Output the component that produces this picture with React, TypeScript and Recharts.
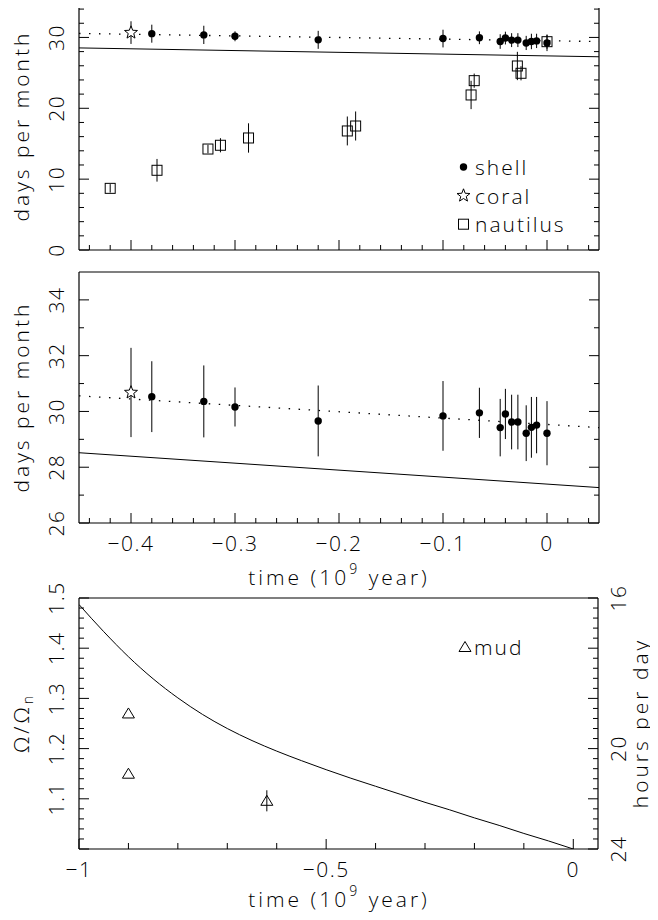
import React from 'react';
import { ComposedChart, XAxis, YAxis, Line, Scatter, ErrorBar, Legend, Label } from 'recharts';

const FONT = '"Open Sans", "DejaVu Sans", sans-serif';
const INK = '#000';

// ---------- data (time in 10^9 yr) ----------
const shellT = [-0.38, -0.33, -0.30, -0.22, -0.10, -0.065, -0.045, -0.040, -0.034, -0.028, -0.020, -0.015, -0.010, 0.0];
const shellDays = [30.53, 30.36, 30.16, 29.66, 29.84, 29.95, 29.42, 29.91, 29.62, 29.62, 29.22, 29.43, 29.51, 29.22];
const shellErr = [1.27, 1.29, 0.70, 1.27, 1.25, 0.90, 1.03, 0.90, 0.98, 0.98, 1.0, 1.09, 1.01, 1.15];

const coralT = [-0.40];
const coralDays = [30.68];
const coralErr = [1.6];

const nautilusT = [-0.42, -0.375, -0.326, -0.314, -0.287, -0.192, -0.184, -0.073, -0.070, -0.0285, -0.025, 0.0];
const nautilusDays = [8.7, 11.25, 14.25, 14.78, 15.81, 16.8, 17.5, 21.88, 23.9, 25.97, 24.94, 29.4];
const nautilusErr = [0.6, 1.6, 0.6, 1.0, 2.07, 2.04, 2.05, 2.0, 1.0, 2.0, 1.0, 1.0];

const theoryT = [-0.45, 0.05];
const theoryDays = [28.52, 27.27];
const fitT = [-0.45, 0.05];
const fitDays = [30.56, 29.42];

const mudT = [-0.9, -0.9, -0.62];
const mudOmega = [1.27, 1.15, 1.096];
const mudErr = [0, 0, 0.021];

const spinT = [-1.0, -0.95, -0.9, -0.85, -0.8, -0.75, -0.7, -0.65, -0.6, -0.55, -0.5, -0.45, -0.4, -0.35, -0.3, -0.25, -0.2, -0.15, -0.1, -0.05, 0];
const spinOmega = [1.487, 1.433, 1.383, 1.339, 1.301, 1.268, 1.240, 1.216, 1.195, 1.176, 1.158, 1.141, 1.125, 1.109, 1.093, 1.078, 1.062, 1.047, 1.031, 1.016, 1.0];

// ---------- ticks ----------
const timeMajor = [-0.4, -0.3, -0.2, -0.1, 0];
const timeLabels = ['−0.4', '−0.3', '−0.2', '−0.1', '0'];
const topDaysMajor = [0, 10, 20, 30];
const topDaysLabels = ['0', '10', '20', '30'];
const midDaysMajor = [26, 28, 30, 32, 34];
const midDaysLabels = ['26', '28', '30', '32', '34'];
const longTimeMajor = [-1, -0.5, 0];
const longTimeLabels = ['−1', '−0.5', '0'];
const omegaMajor = [1.0, 1.1, 1.2, 1.3, 1.4, 1.5];
const omegaLabels = ['', '1.1', '1.2', '1.3', '1.4', '1.5'];
const hoursAt = [1.5, 1.2, 1.0];
const hoursLabels = ['16', '20', '24'];

const legendTop = ['shell', 'coral', 'nautilus'];
const legendBottom = ['mud'];

const range = (a: number, b: number, step: number) => {
  const out: number[] = [];
  const n = Math.round((b - a) / step);
  for (let i = 0; i <= n; i++) out.push(+(a + i * step).toFixed(4));
  return out;
};

const timeTicks = range(-0.44, 0.04, 0.02);
const topDaysTicks = range(0, 34, 2);
const midDaysTicks = range(26, 34, 1);
const longTimeTicks = range(-1, 0, 0.1);
const omegaTicks = range(1.0, 1.5, 0.02);

const zip = (t: number[], v: number[], e?: number[]) => t.map((x, i) => ({ t: x, d: v[i], e: e ? e[i] : 0 }));
const shellData = zip(shellT, shellDays, shellErr);
const coralData = zip(coralT, coralDays, coralErr);
const nautilusData = zip(nautilusT, nautilusDays, nautilusErr);
const theoryData = zip(theoryT, theoryDays);
const fitData = zip(fitT, fitDays);
const mudData = zip(mudT, mudOmega, mudErr);
const spinData = zip(spinT, spinOmega);

// ---------- ticks renderer ----------
const findIdx = (vals: number[], v: number) => vals.findIndex((m) => Math.abs(m - v) < 1e-6);

const tickTextStyle = { fontFamily: FONT, fontSize: 21, fontWeight: 300, fill: INK, letterSpacing: 1.5 } as any;
const titleStyle = { fontFamily: FONT, fontSize: 21, fontWeight: 300, fill: INK, letterSpacing: 3 } as any;
const legendStyle = { fontFamily: FONT, fontSize: 21, fontWeight: 300, fill: INK, letterSpacing: 2 } as any;

type Side = 'bottom' | 'top' | 'left' | 'right';
const makeTick = (side: Side, majors: number[], labelVals?: number[], labels?: string[], minorLen = 5, majorLen = 10) =>
  (props: any) => {
    const { x, y, payload } = props;
    const v = payload.value;
    const major = findIdx(majors, v) >= 0;
    const len = major ? majorLen : minorLen;
    let text: string | null = null;
    if (labelVals && labels) {
      const i = findIdx(labelVals, v);
      if (i >= 0 && labels[i]) text = labels[i];
    }
    let line: any = null;
    let txt: any = null;
    if (side === 'bottom') {
      line = <line x1={x} y1={y} x2={x} y2={y - len} stroke={INK} strokeWidth={1} />;
      if (text) txt = <text x={x} y={y + 20} textAnchor="middle" dominantBaseline="central" style={tickTextStyle}>{text}</text>;
    } else if (side === 'top') {
      line = <line x1={x} y1={y} x2={x} y2={y + len} stroke={INK} strokeWidth={1} />;
    } else if (side === 'left') {
      line = <line x1={x} y1={y} x2={x + len} y2={y} stroke={INK} strokeWidth={1} />;
      if (text) txt = <text x={x - 23} y={y} textAnchor="middle" dominantBaseline="central" transform={`rotate(-90 ${x - 23} ${y})`} style={tickTextStyle}>{text}</text>;
    } else {
      line = <line x1={x} y1={y} x2={x - len} y2={y} stroke={INK} strokeWidth={1} />;
      if (text) txt = <text x={x + 20} y={y} textAnchor="middle" dominantBaseline="central" transform={`rotate(-90 ${x + 20} ${y})`} style={tickTextStyle}>{text}</text>;
    }
    return <g>{line}{txt}</g>;
  };

// ---------- marker shapes ----------
const Dot = (p: any) => <circle cx={p.cx} cy={p.cy} r={3.7} fill={INK} />;
const starPath = (cx: number, cy: number, R: number, r: number) => {
  let d = '';
  for (let i = 0; i < 10; i++) {
    const ang = -Math.PI / 2 + (i * Math.PI) / 5;
    const rad = i % 2 === 0 ? R : r;
    d += (i === 0 ? 'M' : 'L') + (cx + rad * Math.cos(ang)).toFixed(2) + ' ' + (cy + rad * Math.sin(ang)).toFixed(2);
  }
  return d + 'Z';
};
const Star = (p: any) => <path d={starPath(p.cx, p.cy, 6.8, 2.9)} fill="#fff" stroke={INK} strokeWidth={1} />;
const Square = (p: any) => <rect x={p.cx - 5} y={p.cy - 5} width={10} height={10} fill="none" stroke={INK} strokeWidth={1} />;
const Tri = (p: any) => <path d={`M${p.cx} ${p.cy - 5.5}L${p.cx - 6} ${p.cy + 4.5}L${p.cx + 6} ${p.cy + 4.5}Z`} fill="none" stroke={INK} strokeWidth={1} />;

const vTitle = (x: number, y: number, content: any) => () => (
  <text x={x} y={y} textAnchor="middle" dominantBaseline="central" transform={`rotate(-90 ${x} ${y})`} style={titleStyle}>{content}</text>
);
const timeTitle = (x: number, y: number) => () => (
  <text x={x} y={y} textAnchor="middle" dominantBaseline="central" style={titleStyle}>
    time (10<tspan dy={-9} fontSize={14}>9</tspan><tspan dy={9}> year)</tspan>
  </text>
);

const axisLineStyle = { stroke: INK, strokeWidth: 1.2 };
const common = { tickSize: 0, tickMargin: 0, tickLine: false, interval: 0 as const, axisLine: axisLineStyle, allowDataOverflow: true, type: 'number' as const };

const LegendTop = () => (
  <svg width={160} height={90} style={{ overflow: 'visible' }}>
    {legendTop.map((name, i) => {
      const cy = 15 + i * 28.6;
      const cx = 11.5;
      return (
        <g key={name}>
          {i === 0 && <Dot cx={cx} cy={cy} />}
          {i === 1 && <Star cx={cx} cy={cy} />}
          {i === 2 && <Square cx={cx} cy={cy} />}
          <text x={23} y={cy} dominantBaseline="central" style={legendStyle}>{name}</text>
        </g>
      );
    })}
  </svg>
);
const LegendBottom = () => (
  <svg width={100} height={30} style={{ overflow: 'visible' }}>
    {legendBottom.map((name) => (
      <g key={name}>
        <Tri cx={13} cy={15} />
        <text x={22} y={15} dominantBaseline="central" style={legendStyle}>{name}</text>
      </g>
    ))}
  </svg>
);

// axis boxes are 1px wide/high, so margins are reduced by 1 on each side
export default function App() {
  return (
    <div style={{ position: 'relative', width: 658, height: 920, margin: '-8px 0 0 -8px', background: '#fff', overflow: 'hidden' }}>
      {/* top panel: plot 79..599 x 2..250 */}
      <div style={{ position: 'absolute', left: 0, top: 0 }}>
        <ComposedChart width={658} height={262} margin={{ top: 1, right: 58, bottom: 11, left: 78 }}>
          <XAxis {...common} dataKey="t" domain={[-0.45, 0.05]} ticks={timeTicks} height={1} tick={makeTick('bottom', timeMajor)} />
          <XAxis {...common} xAxisId="top" orientation="top" domain={[-0.45, 0.05]} ticks={timeTicks} height={1} tick={makeTick('top', timeMajor)} />
          <YAxis {...common} domain={[0, 35]} ticks={topDaysTicks} width={1} tick={makeTick('left', topDaysMajor, topDaysMajor, topDaysLabels)}>
            <Label content={vTitle(21, 126, 'days per month')} />
          </YAxis>
          <YAxis {...common} yAxisId="r" orientation="right" domain={[0, 35]} ticks={topDaysTicks} width={1} tick={makeTick('right', topDaysMajor)} />
          <Line data={theoryData} dataKey="d" type="linear" stroke={INK} strokeWidth={1} dot={false} isAnimationActive={false} />
          <Line data={fitData} dataKey="d" type="linear" stroke={INK} strokeWidth={1.3} strokeDasharray="1.5 8.5" dot={false} isAnimationActive={false} />
          <Scatter data={nautilusData} dataKey="d" shape={Square} isAnimationActive={false}>
            <ErrorBar dataKey="e" direction="y" width={0} stroke={INK} strokeWidth={1} />
          </Scatter>
          <Scatter data={shellData} dataKey="d" shape={Dot} isAnimationActive={false}>
            <ErrorBar dataKey="e" direction="y" width={0} stroke={INK} strokeWidth={1} />
          </Scatter>
          <Scatter data={coralData} dataKey="d" shape={Star} isAnimationActive={false}>
            <ErrorBar dataKey="e" direction="y" width={0} stroke={INK} strokeWidth={1} />
          </Scatter>
          <Legend layout="vertical" align="center" verticalAlign="middle" content={LegendTop}
            wrapperStyle={{ left: 452, top: 152, width: 160, height: 90 }} />
        </ComposedChart>
      </div>

      {/* middle panel: plot 79..599 x 272..523 */}
      <div style={{ position: 'absolute', left: 0, top: 262 }}>
        <ComposedChart width={658} height={335} margin={{ top: 9, right: 58, bottom: 73, left: 78 }}>
          <XAxis {...common} dataKey="t" domain={[-0.45, 0.05]} ticks={timeTicks} height={1} tick={makeTick('bottom', timeMajor, timeMajor, timeLabels)}>
            <Label content={timeTitle(339, 315)} />
          </XAxis>
          <XAxis {...common} xAxisId="top" orientation="top" domain={[-0.45, 0.05]} ticks={timeTicks} height={1} tick={makeTick('top', timeMajor)} />
          <YAxis {...common} domain={[26, 35]} ticks={midDaysTicks} width={1} tick={makeTick('left', midDaysMajor, midDaysMajor, midDaysLabels)}>
            <Label content={vTitle(21, 135, 'days per month')} />
          </YAxis>
          <YAxis {...common} yAxisId="r" orientation="right" domain={[26, 35]} ticks={midDaysTicks} width={1} tick={makeTick('right', midDaysMajor)} />
          <Line data={theoryData} dataKey="d" type="linear" stroke={INK} strokeWidth={1} dot={false} isAnimationActive={false} />
          <Line data={fitData} dataKey="d" type="linear" stroke={INK} strokeWidth={1.3} strokeDasharray="1.5 8.5" dot={false} isAnimationActive={false} />
          <Scatter data={shellData} dataKey="d" shape={Dot} isAnimationActive={false}>
            <ErrorBar dataKey="e" direction="y" width={0} stroke={INK} strokeWidth={1} />
          </Scatter>
          <Scatter data={coralData} dataKey="d" shape={Star} isAnimationActive={false}>
            <ErrorBar dataKey="e" direction="y" width={0} stroke={INK} strokeWidth={1} />
          </Scatter>
        </ComposedChart>
      </div>

      {/* bottom panel: plot 79..598 x 598..849 */}
      <div style={{ position: 'absolute', left: 0, top: 580 }}>
        <ComposedChart width={658} height={340} margin={{ top: 17, right: 59, bottom: 70, left: 78 }}>
          <XAxis {...common} dataKey="t" domain={[-1, 0.05]} ticks={longTimeTicks} height={1} tick={makeTick('bottom', longTimeMajor, longTimeMajor, longTimeLabels, 6, 10)}>
            <Label content={timeTitle(339, 319)} />
          </XAxis>
          <XAxis {...common} xAxisId="top" orientation="top" domain={[-1, 0.05]} ticks={longTimeTicks} height={1} tick={makeTick('top', longTimeMajor, undefined, undefined, 6, 10)} />
          <YAxis {...common} domain={[1.0, 1.5]} ticks={omegaTicks} width={1} tick={makeTick('left', omegaMajor, omegaMajor, omegaLabels)}>
            <Label content={vTitle(21, 143, <>Ω/Ω<tspan dy={6} fontSize={14}>n</tspan></>)} />
          </YAxis>
          <YAxis {...common} yAxisId="r" orientation="right" domain={[1.0, 1.5]} ticks={omegaTicks} width={1} tick={makeTick('right', omegaMajor, hoursAt, hoursLabels)}>
            <Label content={vTitle(640, 143, 'hours per day')} />
          </YAxis>
          <Line data={spinData} dataKey="d" type="monotone" stroke={INK} strokeWidth={1} dot={false} isAnimationActive={false} />
          <Scatter data={mudData} dataKey="d" shape={Tri} isAnimationActive={false}>
            <ErrorBar dataKey="e" direction="y" width={0} stroke={INK} strokeWidth={1} />
          </Scatter>
          <Legend layout="vertical" align="center" verticalAlign="middle" content={LegendBottom}
            wrapperStyle={{ left: 452, top: 52, width: 100, height: 30 }} />
        </ComposedChart>
      </div>
    </div>
  );
}
